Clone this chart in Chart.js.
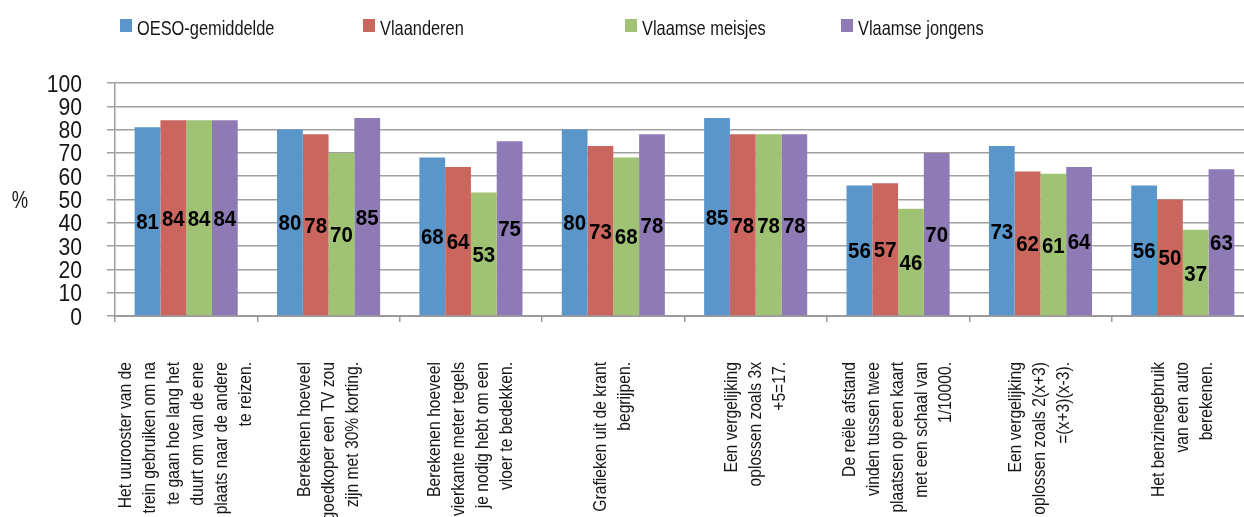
<!DOCTYPE html>
<html><head><meta charset="utf-8">
<script src="https://cdn.jsdelivr.net/npm/chart.js@4.4.1/dist/chart.umd.min.js"></script>
<style>html,body{margin:0;padding:0;background:#fff;overflow:hidden;width:1244px;height:517px}canvas{display:block}</style>
</head><body><canvas id="c" width="1254" height="517"></canvas>
<script>
const categories = [
  ["Het uurooster van de", "trein gebruiken om na", "te gaan hoe lang het", "duurt om van de ene", "plaats naar de andere", "te reizen."],
  ["Berekenen hoeveel", "goedkoper een TV zou", "zijn met 30% korting."],
  ["Berekenen hoeveel", "vierkante meter tegels", "je nodig hebt om een", "vloer te bedekken."],
  ["Grafieken uit de krant", "begrijpen."],
  ["Een vergelijking", "oplossen zoals 3x", "+5=17."],
  ["De reële afstand", "vinden tussen twee", "plaatsen op een kaart", "met een schaal van", "1/10000."],
  ["Een vergelijking", "oplossen zoals 2(x+3)", "=(x+3)(x-3)."],
  ["Het benzinegebruik", "van een auto", "berekenen."]
];
const oesoGemiddelde = [81, 80, 68, 80, 85, 56, 73, 56];
const vlaanderen     = [84, 78, 64, 73, 78, 57, 62, 50];
const vlaamseMeisjes = [84, 70, 53, 68, 78, 46, 61, 37];
const vlaamseJongens = [84, 85, 75, 78, 78, 70, 64, 63];
const seriesNames = ["OESO-gemiddelde", "Vlaanderen", "Vlaamse meisjes", "Vlaamse jongens"];
const seriesColors = ["#5B96CA", "#CB665F", "#9FC275", "#8E7AB4"];
const yTickValues = [0, 10, 20, 30, 40, 50, 60, 70, 80, 90, 100];
const yAxisLabel = "%";

const FONT = '"Liberation Sans", Arial, sans-serif';
const TEXT = '#161616';
const LABEL_LH = 24;
const legendX = [120, 363, 625, 841];

// draw text horizontally condensed (reference uses a condensed face)
function condText(ctx, str, x, y, sx, align, baseline, rot) {
  ctx.save();
  ctx.translate(x, y);
  if (rot) ctx.rotate(rot);
  ctx.scale(sx, 1);
  ctx.textAlign = align;
  ctx.textBaseline = baseline;
  ctx.fillText(str, 0, 0);
  ctx.restore();
}

const textLayer = {
  id: 'textLayer',
  afterDraw(chart) {
    const ctx = chart.ctx, a = chart.chartArea;
    const xs = chart.scales.x, ys = chart.scales.y;
    ctx.save();
    // legend
    ctx.font = '21px ' + FONT;
    chart.data.datasets.forEach((ds, i) => {
      ctx.fillStyle = ds.backgroundColor;
      ctx.fillRect(legendX[i], 19, 12, 13);
      ctx.fillStyle = TEXT;
      condText(ctx, ds.label, legendX[i] + 17, 35, 0.78, 'left', 'alphabetic');
    });
    // y axis title
    ctx.font = '23px ' + FONT;
    ctx.fillStyle = TEXT;
    condText(ctx, yAxisLabel, 20, (a.top + a.bottom) / 2 + 8, 0.8, 'center', 'alphabetic');
    // y tick labels
    ctx.font = '24px ' + FONT;
    yTickValues.forEach(v => {
      const y = ys.getPixelForValue(v);
      condText(ctx, String(v), a.left - 33, y + 8.5, 0.88, 'right', 'alphabetic');
    });
    // x category labels, rotated, lines centred on the category
    ctx.font = '18px ' + FONT;
    categories.forEach((lines, i) => {
      const cx = xs.getPixelForValue(i);
      const n = lines.length;
      lines.forEach((line, k) => {
        const lx = cx + (k - (n - 1) / 2) * LABEL_LH;
        condText(ctx, line, lx, a.bottom + 46, 0.87, 'right', 'middle', -Math.PI / 2);
      });
    });
    ctx.restore();
  }
};

const barValues = {
  id: 'barValues',
  afterDatasetsDraw(chart) {
    const ctx = chart.ctx;
    ctx.save();
    ctx.font = 'bold 22px ' + FONT;
    ctx.fillStyle = '#000';
    chart.data.datasets.forEach((ds, i) => {
      const meta = chart.getDatasetMeta(i);
      meta.data.forEach((bar, j) => {
        condText(ctx, String(ds.data[j]), bar.x, (bar.y + bar.base) / 2 + 8, 0.93, 'center', 'alphabetic');
      });
    });
    ctx.restore();
  }
};

const seriesData = [oesoGemiddelde, vlaanderen, vlaamseMeisjes, vlaamseJongens];

new Chart(document.getElementById('c'), {
  type: 'bar',
  data: {
    labels: categories.map(l => l.join(' ')),
    datasets: seriesData.map((d, i) => ({
      label: seriesNames[i],
      data: d,
      backgroundColor: seriesColors[i],
      borderWidth: 0,
      barPercentage: 1.0,
      categoryPercentage: 0.724
    }))
  },
  options: {
    responsive: false,
    animation: false,
    devicePixelRatio: 1,
    layout: { padding: { top: 83, left: 0, right: 0, bottom: 0 } },
    plugins: { legend: { display: false }, tooltip: { enabled: false } },
    scales: {
      x: {
        offset: true,
        grid: { offset: true, drawOnChartArea: false, drawTicks: true, tickLength: 6, color: '#9a9a9a', lineWidth: 1.5 },
        border: { color: '#9a9a9a', width: 2 },
        ticks: { display: false, autoSkip: false },
        afterFit(s) { s.height = 201; }
      },
      y: {
        min: 0, max: 100,
        afterBuildTicks(s) { s.ticks = yTickValues.map(v => ({ value: v })); },
        ticks: { display: false },
        grid: { color: '#a0a0a0', lineWidth: 1.5, tickLength: 8, drawTicks: true },
        border: { color: '#a0a0a0', width: 1.5 },
        afterFit(s) { s.width = 115; }
      }
    }
  },
  plugins: [textLayer, barValues]
});
</script>
</body></html>
